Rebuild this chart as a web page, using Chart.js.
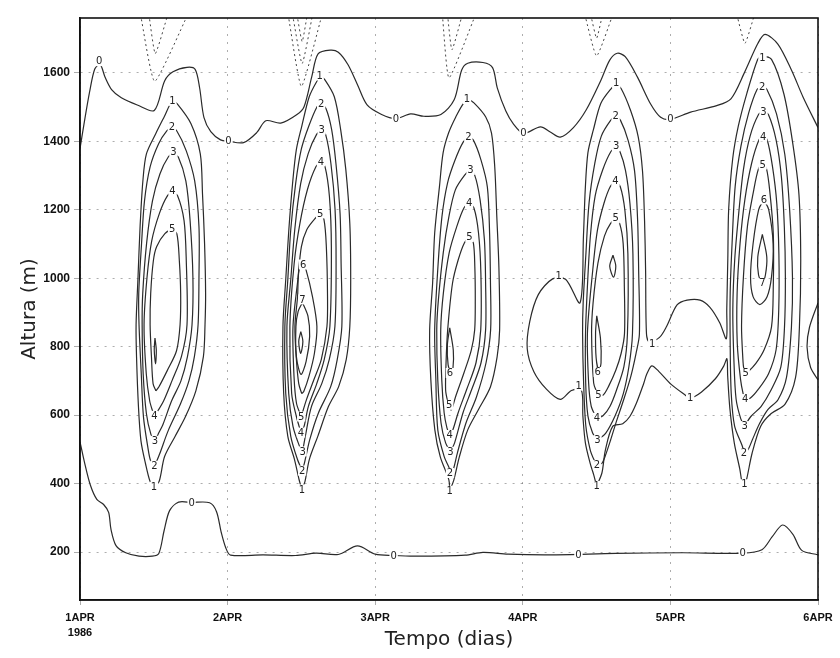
<!DOCTYPE html>
<html><head><meta charset="utf-8">
<script src="https://cdn.jsdelivr.net/npm/chart.js@4.4.1/dist/chart.umd.min.js"></script>
<style>html,body{margin:0;padding:0;background:#fff}#wrap{width:840px;height:658px}</style>
</head><body><div id="wrap"><canvas id="c"></canvas></div>
<script>
// ---- axes ----
const xTickValues = [0, 1, 2, 3, 4, 5];
const xTickLabels = [['1APR', '1986'], '2APR', '3APR', '4APR', '5APR', '6APR'];
const yTickValues = [200, 400, 600, 800, 1000, 1200, 1400, 1600];

// ---- zero contours [day, height m] ----
const zeroTop = [[0,1378],[0.027,1450],[0.065,1544],[0.10,1611],[0.136,1625],[0.17,1587],[0.214,1551],[0.28,1527],[0.388,1506],[0.503,1490],[0.574,1577],[0.63,1603],[0.725,1616],[0.78,1610],[0.81,1557],[0.84,1469],[0.886,1428],[0.952,1404],[1.006,1400],[1.108,1396],[1.197,1425],[1.259,1460],[1.36,1453],[1.47,1478],[1.518,1501],[1.57,1588],[1.613,1655],[1.695,1666],[1.75,1660],[1.815,1624],[1.88,1565],[1.945,1506],[2.04,1479],[2.14,1466],[2.24,1480],[2.33,1473],[2.445,1478],[2.535,1521],[2.586,1608],[2.627,1628],[2.73,1630],[2.795,1615],[2.827,1556],[2.885,1488],[2.937,1450],[3.004,1423],[3.12,1442],[3.186,1427],[3.254,1412],[3.343,1440],[3.43,1492],[3.53,1579],[3.589,1637],[3.64,1657],[3.694,1647],[3.776,1588],[3.867,1508],[3.934,1470],[4.0,1464],[4.137,1485],[4.314,1504],[4.41,1524],[4.5,1599],[4.593,1686],[4.641,1712],[4.728,1684],[4.82,1608],[4.9,1528],[5.0,1440]];
const zeroBottom = [[0,522],[0.03,463],[0.07,396],[0.114,354],[0.16,339],[0.194,316],[0.21,266],[0.244,219],[0.31,198],[0.40,188],[0.49,188],[0.534,196],[0.57,263],[0.607,321],[0.668,346],[0.756,345],[0.878,344],[0.925,318],[0.956,259],[0.988,212],[1.02,191],[1.24,192],[1.46,190],[1.60,197],[1.75,193],[1.88,218],[2.0,194],[2.125,190],[2.27,188],[2.61,191],[2.73,199],[2.90,194],[3.18,192],[3.63,196],[4.08,198],[4.49,197],[4.62,207],[4.69,245],[4.76,279],[4.83,252],[4.89,205],[5.0,192]];

// ---- negative (dashed) contours ----
const neg1a = [[0.41,1770],[0.506,1575],[0.73,1770]];
const neg1b = [[0.467,1770],[0.51,1656],[0.595,1770]];
const neg2a = [[1.41,1770],[1.50,1560],[1.64,1770]];
const neg2b = [[1.44,1770],[1.505,1627],[1.576,1770]];
const neg2c = [[1.47,1770],[1.505,1691],[1.54,1770]];
const neg3a = [[2.455,1770],[2.50,1585],[2.68,1770]];
const neg3b = [[2.49,1770],[2.52,1667],[2.59,1770]];
const neg4a = [[3.42,1770],[3.50,1649],[3.61,1770]];
const neg4b = [[3.46,1770],[3.50,1701],[3.54,1770]];
const neg5a = [[4.45,1770],[4.505,1686],[4.57,1770]];

// ---- day 1 cluster ----
const c1L1 = [[0.501,391],[0.475,406],[0.444,458],[0.413,525],[0.396,625],[0.383,771],[0.380,864],[0.393,1002],[0.407,1150],[0.426,1284],[0.45,1363],[0.513,1422],[0.57,1471],[0.626,1518],[0.659,1509],[0.752,1451],[0.815,1363],[0.83,1246],[0.844,1101],[0.851,955],[0.847,864],[0.836,771],[0.785,671],[0.714,595],[0.643,537],[0.573,479],[0.536,406],[0.501,391]];
const c1L2 = [[0.504,452],[0.478,467],[0.459,508],[0.43,595],[0.415,721],[0.40,864],[0.398,955],[0.417,1101],[0.437,1226],[0.475,1325],[0.532,1392],[0.588,1430],[0.622,1439],[0.656,1430],[0.72,1372],[0.777,1284],[0.806,1150],[0.806,1002],[0.80,864],[0.775,771],[0.738,700],[0.681,633],[0.597,554],[0.54,487],[0.518,464],[0.504,452]];
const c1L3 = [[0.507,525],[0.481,543],[0.45,604],[0.428,721],[0.421,864],[0.425,955],[0.451,1101],[0.491,1226],[0.542,1305],[0.598,1354],[0.633,1363],[0.666,1354],[0.717,1284],[0.746,1168],[0.765,1002],[0.759,864],[0.728,771],[0.684,700],[0.621,642],[0.564,575],[0.528,543],[0.507,525]];
const c1L4 = [[0.504,598],[0.491,613],[0.472,642],[0.449,721],[0.434,864],[0.454,1002],[0.486,1109],[0.537,1188],[0.593,1241],[0.627,1249],[0.661,1241],[0.705,1168],[0.72,1051],[0.725,864],[0.687,771],[0.623,700],[0.567,642],[0.524,610],[0.504,598]];
const c1L5 = [[0.514,671],[0.495,692],[0.484,771],[0.475,864],[0.479,955],[0.497,1051],[0.519,1092],[0.575,1130],[0.623,1141],[0.656,1130],[0.673,1051],[0.682,955],[0.678,864],[0.654,788],[0.591,730],[0.535,683],[0.514,671]];
const c1L6 = [[0.508,825],[0.517,790],[0.512,750],[0.503,790],[0.508,825]];

// ---- day 2 cluster ----
const c2L1 = [[1.503,383],[1.484,412],[1.453,471],[1.408,538],[1.38,663],[1.375,859],[1.394,996],[1.415,1142],[1.44,1276],[1.466,1376],[1.502,1443],[1.553,1530],[1.603,1574],[1.631,1589],[1.658,1580],[1.723,1530],[1.766,1434],[1.801,1317],[1.828,1160],[1.834,996],[1.828,859],[1.804,763],[1.753,684],[1.683,625],[1.611,538],[1.554,471],[1.524,406],[1.503,383]];
const c2L2 = [[1.505,438],[1.473,471],[1.428,538],[1.394,663],[1.388,859],[1.408,996],[1.428,1142],[1.461,1276],[1.499,1376],[1.549,1443],[1.606,1501],[1.634,1510],[1.667,1495],[1.705,1434],[1.734,1335],[1.762,1189],[1.769,1043],[1.774,859],[1.743,763],[1.699,684],[1.614,605],[1.557,529],[1.52,459],[1.505,438]];
const c2L3 = [[1.508,494],[1.488,508],[1.443,567],[1.414,663],[1.402,859],[1.428,996],[1.455,1142],[1.495,1276],[1.546,1364],[1.603,1420],[1.637,1431],[1.664,1420],[1.70,1335],[1.728,1201],[1.735,1043],[1.727,859],[1.689,763],[1.638,692],[1.568,625],[1.53,546],[1.508,494]];
const c2L4 = [[1.497,549],[1.466,596],[1.434,663],[1.422,859],[1.451,1043],[1.49,1160],[1.541,1259],[1.599,1326],[1.633,1338],[1.66,1326],[1.69,1238],[1.703,1092],[1.693,859],[1.655,763],[1.604,692],[1.547,625],[1.518,567],[1.497,549]];
const c2L5 = [[1.499,596],[1.467,634],[1.45,713],[1.443,859],[1.476,996],[1.50,1092],[1.537,1142],[1.592,1174],[1.626,1186],[1.653,1171],[1.669,1092],[1.677,946],[1.673,859],[1.635,763],[1.585,704],[1.535,646],[1.499,596]];
const c2L6 = [[1.502,663],[1.482,692],[1.466,763],[1.456,859],[1.474,946],[1.484,1025],[1.512,1040],[1.531,1025],[1.575,946],[1.605,859],[1.588,780],[1.551,713],[1.516,669],[1.502,663]];
const c2L7 = [[1.507,929],[1.545,888],[1.556,830],[1.532,757],[1.497,719],[1.466,771],[1.463,859],[1.478,903],[1.507,929]];
const c2L8 = [[1.496,844],[1.51,815],[1.495,780],[1.482,815],[1.496,844]];

// ---- day 3 cluster ----
const c3L1 = [[2.505,379],[2.499,411],[2.441,478],[2.404,557],[2.377,703],[2.369,849],[2.389,986],[2.403,1132],[2.435,1266],[2.46,1366],[2.497,1424],[2.546,1471],[2.601,1512],[2.635,1520],[2.669,1512],[2.749,1471],[2.788,1424],[2.81,1325],[2.824,1179],[2.838,1033],[2.843,849],[2.826,770],[2.781,683],[2.698,615],[2.627,557],[2.57,478],[2.533,411],[2.505,379]];
const c3L2 = [[2.507,431],[2.501,446],[2.468,478],[2.424,557],[2.411,703],[2.403,849],[2.425,1033],[2.452,1179],[2.49,1278],[2.541,1345],[2.597,1398],[2.631,1410],[2.664,1404],[2.717,1345],[2.76,1266],[2.775,1132],[2.781,986],[2.782,849],[2.751,753],[2.686,653],[2.615,577],[2.557,490],[2.528,440],[2.507,431]];
const c3L3 = [[2.51,493],[2.477,519],[2.446,577],[2.424,703],[2.417,849],[2.428,936],[2.461,1074],[2.499,1179],[2.543,1258],[2.606,1301],[2.64,1313],[2.674,1301],[2.711,1228],[2.74,1112],[2.748,986],[2.748,849],[2.717,753],[2.653,674],[2.595,607],[2.538,519],[2.51,493]];
const c3L4 = [[2.505,542],[2.486,563],[2.467,607],[2.451,703],[2.444,849],[2.462,957],[2.501,1074],[2.552,1150],[2.601,1205],[2.635,1217],[2.669,1205],[2.70,1132],[2.716,1015],[2.715,849],[2.683,753],[2.619,674],[2.562,607],[2.526,557],[2.505,542]];
const c3L5 = [[2.502,630],[2.489,644],[2.477,674],[2.48,753],[2.491,849],[2.524,986],[2.562,1053],[2.604,1103],[2.639,1118],[2.665,1103],[2.675,1033],[2.678,936],[2.674,849],[2.651,790],[2.601,723],[2.544,653],[2.515,615],[2.502,630]];
const c3L6 = [[2.505,855],[2.529,790],[2.527,738],[2.513,726],[2.494,747],[2.489,805],[2.505,855]];

// ---- days 4-5: level 1 (connected) ----
const c45L1a = [[3.5,393],[3.481,425],[3.456,460],[3.424,519],[3.407,598],[3.397,673],[3.33,672],[3.254,646],[3.16,676],[3.075,727],[3.03,794],[3.047,873],[3.105,952],[3.202,998],[3.29,997],[3.388,928],[3.411,1124],[3.423,1258],[3.441,1366],[3.478,1433],[3.529,1511],[3.599,1554],[3.633,1566],[3.666,1554],[3.731,1489],[3.782,1413],[3.811,1313],[3.825,1167],[3.832,1021],[3.838,837],[3.857,814],[3.926,827],[3.974,859],[4.045,922],[4.113,936],[4.201,936],[4.268,915],[4.334,870],[4.379,823],[4.382,911],[4.389,1057],[4.395,1203],[4.422,1349],[4.46,1444],[4.518,1540],[4.591,1639],[4.618,1648],[4.685,1639],[4.769,1538],[4.83,1391],[4.871,1244],[4.883,1052],[4.874,856],[4.848,710],[4.777,632],[4.681,604],[4.611,567],[4.553,488],[4.516,412],[4.501,398]];
const c45L1b = [[4.501,398],[4.488,399],[4.47,443],[4.433,518],[4.403,619],[4.388,715],[4.383,765],[4.362,744],[4.306,707],[4.209,667],[4.134,650],[4.10,659],[4.007,689],[3.921,728],[3.874,744],[3.84,720],[3.818,691],[3.768,633],[3.725,596],[3.677,575],[3.609,567],[3.559,497],[3.536,431],[3.5,393]];
const edgeL1 = [[5.0,928],[4.942,856],[4.926,798],[4.95,739],[5.0,703]];

// ---- day 4 cluster ----
const c4L2 = [[3.503,454],[3.483,469],[3.457,498],[3.427,569],[3.412,695],[3.405,841],[3.409,928],[3.428,1074],[3.449,1220],[3.488,1336],[3.532,1415],[3.595,1461],[3.629,1473],[3.662,1461],[3.714,1402],[3.757,1314],[3.778,1168],[3.785,1021],[3.79,837],[3.767,780],[3.731,712],[3.681,642],[3.63,576],[3.594,526],[3.558,480],[3.537,460],[3.503,454]];
const c4L3 = [[3.506,527],[3.473,548],[3.441,598],[3.426,695],[3.425,841],[3.438,978],[3.458,1124],[3.49,1240],[3.541,1316],[3.597,1370],[3.632,1382],[3.658,1370],[3.696,1314],[3.726,1218],[3.746,1072],[3.743,838],[3.719,742],[3.681,663],[3.624,597],[3.561,547],[3.506,527]];
const c4L4 = [[3.502,592],[3.489,600],[3.463,627],[3.446,694],[3.438,841],[3.474,1024],[3.506,1141],[3.55,1219],[3.593,1268],[3.627,1280],[3.66,1268],[3.692,1197],[3.712,1071],[3.709,838],[3.685,742],[3.634,672],[3.591,626],[3.543,598],[3.502,592]];
const c4L5 = [[3.512,659],[3.499,670],[3.48,694],[3.466,840],[3.476,927],[3.509,1044],[3.553,1123],[3.595,1160],[3.629,1172],[3.656,1160],[3.68,1101],[3.688,975],[3.689,838],[3.666,780],[3.63,731],[3.581,684],[3.545,659],[3.512,659]];
const c4L6a = [[3.611,1067],[3.63,1035],[3.615,1003],[3.589,1035],[3.611,1067]];
const c4L6b = [[3.501,890],[3.526,825],[3.53,752],[3.515,729],[3.497,767],[3.493,840],[3.501,890]];

// ---- day 5 cluster ----
const c5L2 = [[4.499,489],[4.487,510],[4.435,568],[4.412,664],[4.405,811],[4.405,957],[4.418,1103],[4.439,1269],[4.478,1386],[4.53,1482],[4.587,1551],[4.621,1560],[4.654,1551],[4.719,1480],[4.775,1362],[4.808,1199],[4.827,1003],[4.82,857],[4.787,711],[4.729,645],[4.66,616],[4.605,576],[4.556,529],[4.527,500],[4.499,489]];
const c5L3 = [[4.503,568],[4.477,589],[4.445,647],[4.43,764],[4.423,910],[4.436,1056],[4.463,1190],[4.495,1318],[4.54,1415],[4.597,1478],[4.631,1487],[4.664,1478],[4.716,1404],[4.752,1296],[4.772,1149],[4.779,1003],[4.773,857],[4.748,740],[4.683,674],[4.614,625],[4.545,596],[4.503,568]];
const c5L4 = [[4.506,647],[4.493,662],[4.475,705],[4.453,810],[4.452,956],[4.472,1102],[4.505,1231],[4.55,1335],[4.601,1405],[4.628,1414],[4.655,1405],[4.692,1325],[4.721,1217],[4.735,1071],[4.734,908],[4.716,791],[4.665,721],[4.595,675],[4.54,649],[4.506,647]];
const c5L5 = [[4.51,723],[4.497,737],[4.491,764],[4.482,860],[4.495,1006],[4.522,1152],[4.56,1247],[4.597,1320],[4.625,1332],[4.651,1320],[4.675,1247],[4.697,1130],[4.697,975],[4.685,858],[4.635,791],[4.579,751],[4.53,728],[4.51,723]];
const c5L6 = [[4.633,1230],[4.666,1200],[4.696,1100],[4.685,1004],[4.655,946],[4.606,923],[4.56,946],[4.543,1004],[4.56,1100],[4.598,1200],[4.633,1230]];
const c5L7 = [[4.623,1128],[4.653,1062],[4.644,1010],[4.623,985],[4.597,1010],[4.592,1062],[4.623,1128]];

// ---- contour labels [text, day, height] ----
const contourLabels = [
 ['0',0.13,1634],['0',1.006,1400],['0',2.14,1466],['0',3.004,1423],['0',4.0,1464],
 ['0',0.756,345],['0',2.125,190],['0',3.377,193],['0',4.49,197],
 ['1',0.626,1518],['2',0.622,1442],['3',0.633,1369],['4',0.627,1255],['5',0.624,1144],
 ['4',0.504,598],['3',0.507,525],['2',0.504,452],['1',0.501,391],
 ['1',1.624,1592],['2',1.634,1510],['3',1.637,1434],['4',1.633,1341],['5',1.627,1189],['6',1.512,1040],['7',1.507,938],
 ['5',1.499,596],['4',1.497,549],['3',1.508,494],['2',1.505,438],['1',1.503,383],
 ['1',2.622,1523],['2',2.631,1412],['3',2.646,1316],['4',2.636,1220],['5',2.639,1120],
 ['6',2.506,723],['5',2.502,630],['4',2.505,542],['3',2.51,493],['2',2.507,431],['1',2.505,379],
 ['1',3.633,1569],['2',3.629,1473],['3',3.632,1385],['4',3.628,1283],['5',3.629,1175],
 ['6',3.508,726],['5',3.512,659],['4',3.502,592],['3',3.506,527],['2',3.503,454],['1',3.5,393],
 ['1',3.243,1008],['1',3.378,686],['1',3.877,808],['1',4.134,650],
 ['1',4.624,1642],['2',4.621,1560],['3',4.631,1487],['4',4.628,1414],['5',4.625,1332],['6',4.633,1230],['7',4.623,985],
 ['5',4.51,723],['4',4.506,647],['3',4.503,568],['2',4.499,489],['1',4.501,398]
];

const solidLines = [zeroTop, zeroBottom,
  c1L1, c1L2, c1L3, c1L4, c1L5, c1L6,
  c2L1, c2L2, c2L3, c2L4, c2L5, c2L6, c2L7, c2L8,
  c3L1, c3L2, c3L3, c3L4, c3L5, c3L6,
  c45L1a, c45L1b, edgeL1,
  c4L2, c4L3, c4L4, c4L5, c4L6a, c4L6b,
  c5L2, c5L3, c5L4, c5L5, c5L6, c5L7];
const dashedLines = [neg1a, neg1b, neg2a, neg2b, neg2c, neg3a, neg3b, neg4a, neg4b, neg5a];

const datasets = [];
solidLines.forEach(d => datasets.push({data: d, showLine: true, pointRadius: 0, borderColor: '#2a2a2a', borderWidth: 1.2, tension: 0.3}));
dashedLines.forEach(d => datasets.push({data: d, showLine: true, pointRadius: 0, borderColor: '#444', borderWidth: 1, borderDash: [2, 3], tension: 0.15}));

const labelPlugin = {
  id: 'clabels',
  afterDatasetsDraw(chart) {
    const {ctx, scales: {x, y}} = chart;
    ctx.save();
    ctx.font = '10px "DejaVu Sans"';
    ctx.textAlign = 'center';
    ctx.textBaseline = 'middle';
    for (const [t, dx, dy] of contourLabels) {
      const px = x.getPixelForValue(dx), py = y.getPixelForValue(dy);
      const w = ctx.measureText(t).width + 2;
      ctx.fillStyle = '#fff';
      ctx.fillRect(px - w / 2, py - 5, w, 10);
      ctx.fillStyle = '#222';
      ctx.fillText(t, px, py + 0.5);
    }
    ctx.restore();
  }
};
const framePlugin = {
  id: 'frame',
  afterDraw(chart) {
    const {ctx, chartArea: a} = chart;
    ctx.save();
    ctx.strokeStyle = '#111';
    ctx.lineWidth = 1.6;
    ctx.strokeRect(a.left, a.top, a.right - a.left, a.bottom - a.top);
    ctx.restore();
  }
};

Chart.defaults.font.family = '"Liberation Sans", Arial, sans-serif';
new Chart(document.getElementById('c'), {
  type: 'scatter',
  data: {datasets},
  plugins: [labelPlugin, framePlugin],
  options: {
    responsive: true, maintainAspectRatio: false, animation: false,
    layout: {padding: {left: 0, right: 22, top: 18, bottom: 0}},
    plugins: {legend: {display: false}, tooltip: {enabled: false}},
    scales: {
      x: {
        type: 'linear', min: 0, max: 5,
        afterBuildTicks: s => { s.ticks = xTickValues.map(v => ({value: v})); },
        afterFit: s => { s.height = 58; },
        ticks: {autoSkip: false, maxRotation: 0, padding: 5, color: '#111',
          font: {size: 11, weight: 'bold', lineHeight: 1.4}, callback: (v, i) => xTickLabels[i]},
        grid: {color: 'rgba(0,0,0,0.32)', lineWidth: 1, tickLength: 5, tickBorderDash: []},
        border: {display: true, color: '#111', width: 1.6, dash: [2, 6]},
        title: {display: true, text: 'Tempo (dias)', color: '#222',
          font: {family: '"DejaVu Sans", sans-serif', size: 20}, padding: {top: 0, bottom: 6}}
      },
      y: {
        type: 'linear', min: 60, max: 1760,
        afterBuildTicks: s => { s.ticks = yTickValues.map(v => ({value: v})); },
        afterFit: s => { s.width = 80; },
        ticks: {padding: 4, color: '#111', font: {size: 12, weight: 'bold'}, callback: v => String(v)},
        grid: {color: 'rgba(0,0,0,0.32)', lineWidth: 1, tickLength: 6, tickBorderDash: []},
        border: {display: true, color: '#111', width: 1.6, dash: [2, 6]},
        title: {display: true, text: 'Altura (m)', color: '#222',
          font: {family: '"DejaVu Sans", sans-serif', size: 20}, padding: {top: 18, bottom: 0}}
      }
    }
  }
});
</script>
</body></html>
